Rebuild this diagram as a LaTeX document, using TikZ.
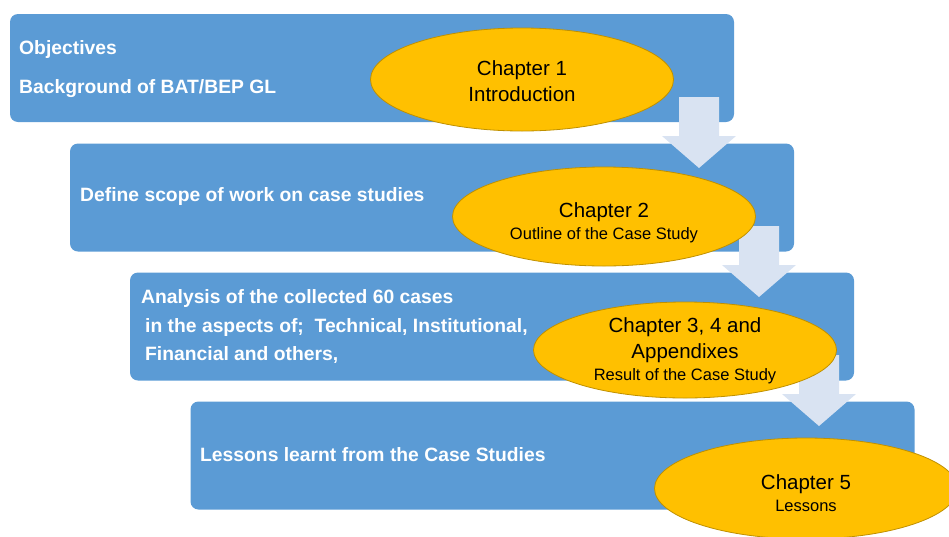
\documentclass[tikz,border=0pt]{standalone}
\usepackage{fontspec}
\setmainfont{Liberation Sans}
\usetikzlibrary{shapes.geometric}
\definecolor{boxblue}{HTML}{5B9BD5}
\definecolor{chapgold}{HTML}{FFC000}
\definecolor{chapedge}{HTML}{BF9000}
\definecolor{arrowpale}{HTML}{D9E3F2}
\newcommand{\subsize}{\fontsize{16.5}{18}\selectfont}

\begin{document}
\begin{tikzpicture}[x=1pt,y=-1pt,
  stage/.style={fill=boxblue,rounded corners=8pt,minimum width=724pt,minimum height=108pt,inner sep=0pt},
  chap/.style={ellipse,fill=chapgold,draw=chapedge,line width=0.8pt,minimum width=303pt,inner sep=0pt},
  chaptext/.style={inner sep=0pt,align=center,font=\fontsize{20.5}{26}\selectfont},
  says/.style={anchor=base west,inner sep=0pt,text=white,font=\bfseries\fontsize{19.3}{22}\selectfont}]
  \clip (0,0) rectangle (949,536);
  \node[stage] (b1) at (372,68) {};
  \node[stage] (b2) at (432,197.5) {};
  \node[stage] (b3) at (492,326.5) {};
  \node[stage] (b4) at (552.5,455.5) {};
  \foreach \i in {0,1,2}
    \fill[arrowpale,shift={(60*\i,129*\i)}] (679,97)--(719,97)--(719,136)--(736,136)--(699,168)--(662,136)--(679,136)--cycle;
  \node[says] (obj) at (19,54) {Objectives};
  \node[says] (bg) at (19,93) {Background of BAT/BEP GL};
  \node[says] (scope) at (80,201) {Define scope of work on case studies};
  \node[says] (ana1) at (141,303) {Analysis of the collected 60 cases};
  \node[says] (ana2) at (145,332) {in the aspects of;\ \ Technical, Institutional,};
  \node[says] (ana3) at (145,360) {Financial and others,};
  \node[says] (less) at (200,461) {Lessons learnt from the Case Studies};
  \node[chap,minimum height=103pt] (c1) at (522,79.5) {};
  \node[chap,minimum height=99pt] (c2) at (604,216.5) {};
  \node[chap,minimum height=96pt] (c3) at (685,350) {};
  \node[chap,minimum height=101pt] (c4) at (806,488.5) {};
  \node[chaptext] (c1t) at (522,81) {Chapter 1\\Introduction};
  \node[chaptext] (c2t) at (604,223) {Chapter 2\\[-4pt]{\subsize Outline of the Case Study}};
  \node[chaptext] (c3t) at (685,351) {Chapter 3, 4 and\\Appendixes\\[-4pt]{\subsize Result of the Case Study}};
  \node[chaptext] (c4t) at (806,493.5) {Chapter 5\\[-4pt]{\subsize Lessons}};
\end{tikzpicture}
\end{document}
